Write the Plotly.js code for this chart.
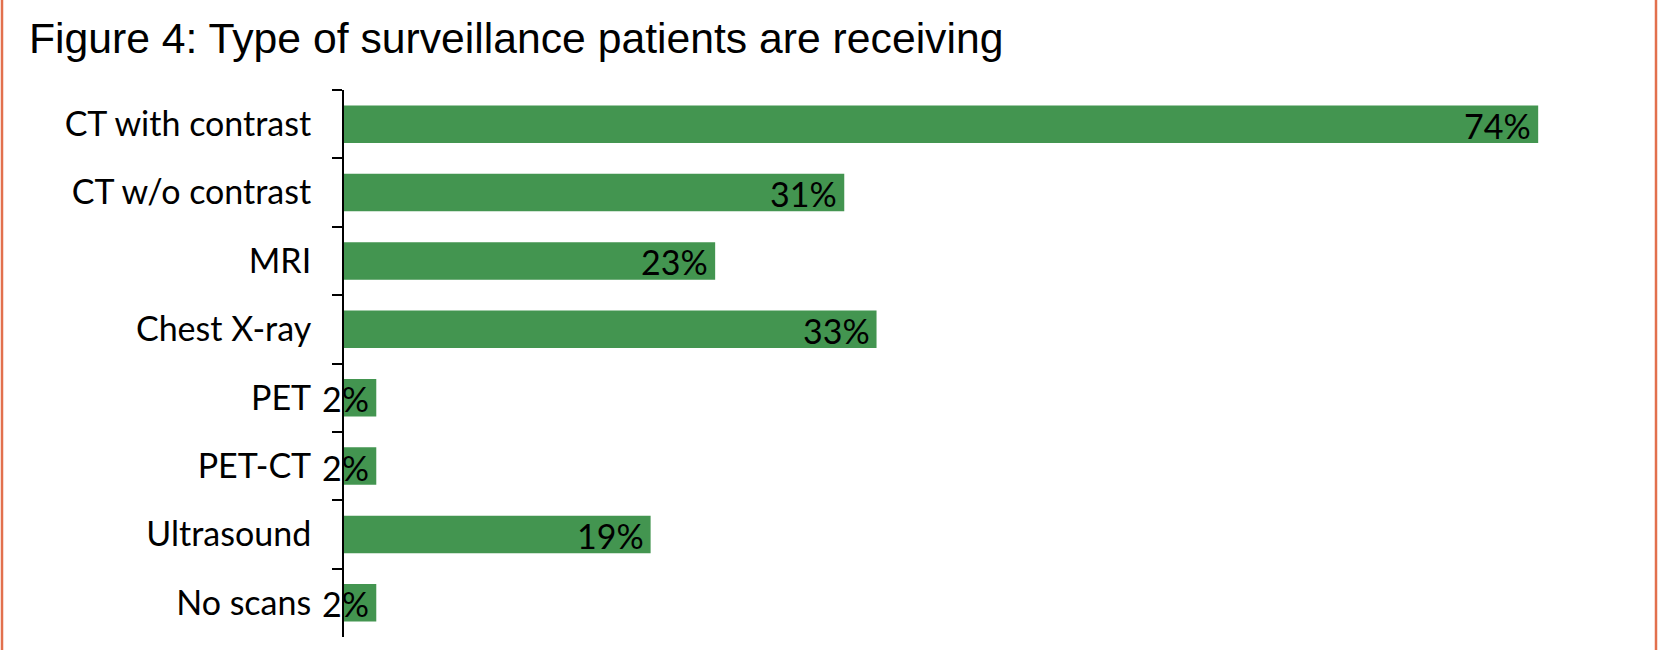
<!DOCTYPE html>
<html>
<head>
<meta charset="utf-8">
<script src="https://cdn.plot.ly/plotly-3.0.1.min.js"></script>
<style>
  html, body { margin: 0; padding: 0; background: #ffffff; }
  #chart { width: 1665px; height: 650px; }
</style>
</head>
<body>
<div id="chart"></div>
<script>
// ---- data ----
const categories = ["CT with contrast", "CT w/o contrast", "MRI", "Chest X-ray", "PET", "PET-CT", "Ultrasound", "No scans"];
const percentValues = [74, 31, 23, 33, 2, 2, 19, 2];
const valueLabels = ["74%", "31%", "23%", "33%", "2%", "2%", "19%", "2%"];
const chartTitle = "Figure 4: Type of surveillance patients are receiving";

// ---- layout constants ----
const W = 1665, H = 650;
const M = { l: 344, r: 30, t: 90, b: 13 };
const pw = W - M.l - M.r, ph = H - M.t - M.b;
const toPaperX = px => (px - M.l) / pw;
const toPaperY = py => (H - M.b - py) / ph;

const labelFont = { family: "Lato, 'Noto Sans', sans-serif", size: 34, color: "#000000" };

const trace = {
  type: "bar",
  orientation: "h",
  x: percentValues,
  y: categories,
  marker: { color: "#439550", line: { width: 0 } },
  hoverinfo: "skip"
};

const annotations = categories.map((c, i) => ({
  x: percentValues[i],
  y: c,
  xref: "x",
  yref: "y",
  text: valueLabels[i],
  showarrow: false,
  xanchor: "right",
  yanchor: "middle",
  xshift: -5,
  yshift: -1,
  font: labelFont
}));

const borderColor = "#E2704D";
const shapes = [
  { type: "line", xref: "paper", yref: "paper", x0: toPaperX(2), x1: toPaperX(2), y0: toPaperY(0), y1: toPaperY(H), line: { color: borderColor, width: 2.5 } },
  { type: "line", xref: "paper", yref: "paper", x0: toPaperX(1656), x1: toPaperX(1656), y0: toPaperY(0), y1: toPaperY(H), line: { color: borderColor, width: 2.5 } }
];

const layout = {
  width: W,
  height: H,
  margin: M,
  paper_bgcolor: "#ffffff",
  plot_bgcolor: "#ffffff",
  showlegend: false,
  bargap: 0.45,
  title: {
    text: chartTitle,
    font: { family: "'Liberation Sans', Arial, sans-serif", size: 42.7, color: "#000000" },
    xref: "container",
    yref: "container",
    x: 29 / W,
    xanchor: "left",
    y: 1 - 23 / H,
    yanchor: "top"
  },
  xaxis: {
    range: [0, 80],
    showgrid: false,
    zeroline: false,
    showline: false,
    showticklabels: false,
    ticks: "",
    fixedrange: true
  },
  yaxis: {
    type: "category",
    range: [categories.length - 0.5, -0.5],
    showgrid: false,
    zeroline: false,
    showline: true,
    linecolor: "#000000",
    linewidth: 2,
    ticks: "outside",
    tickson: "boundaries",
    ticklen: 10,
    tickwidth: 2,
    tickcolor: "#000000",
    ticklabelstandoff: 24,
    tickfont: labelFont,
    fixedrange: true
  },
  annotations: annotations,
  shapes: shapes
};

Plotly.newPlot("chart", [trace], layout, { displayModeBar: false, staticPlot: true });
</script>
</body>
</html>
